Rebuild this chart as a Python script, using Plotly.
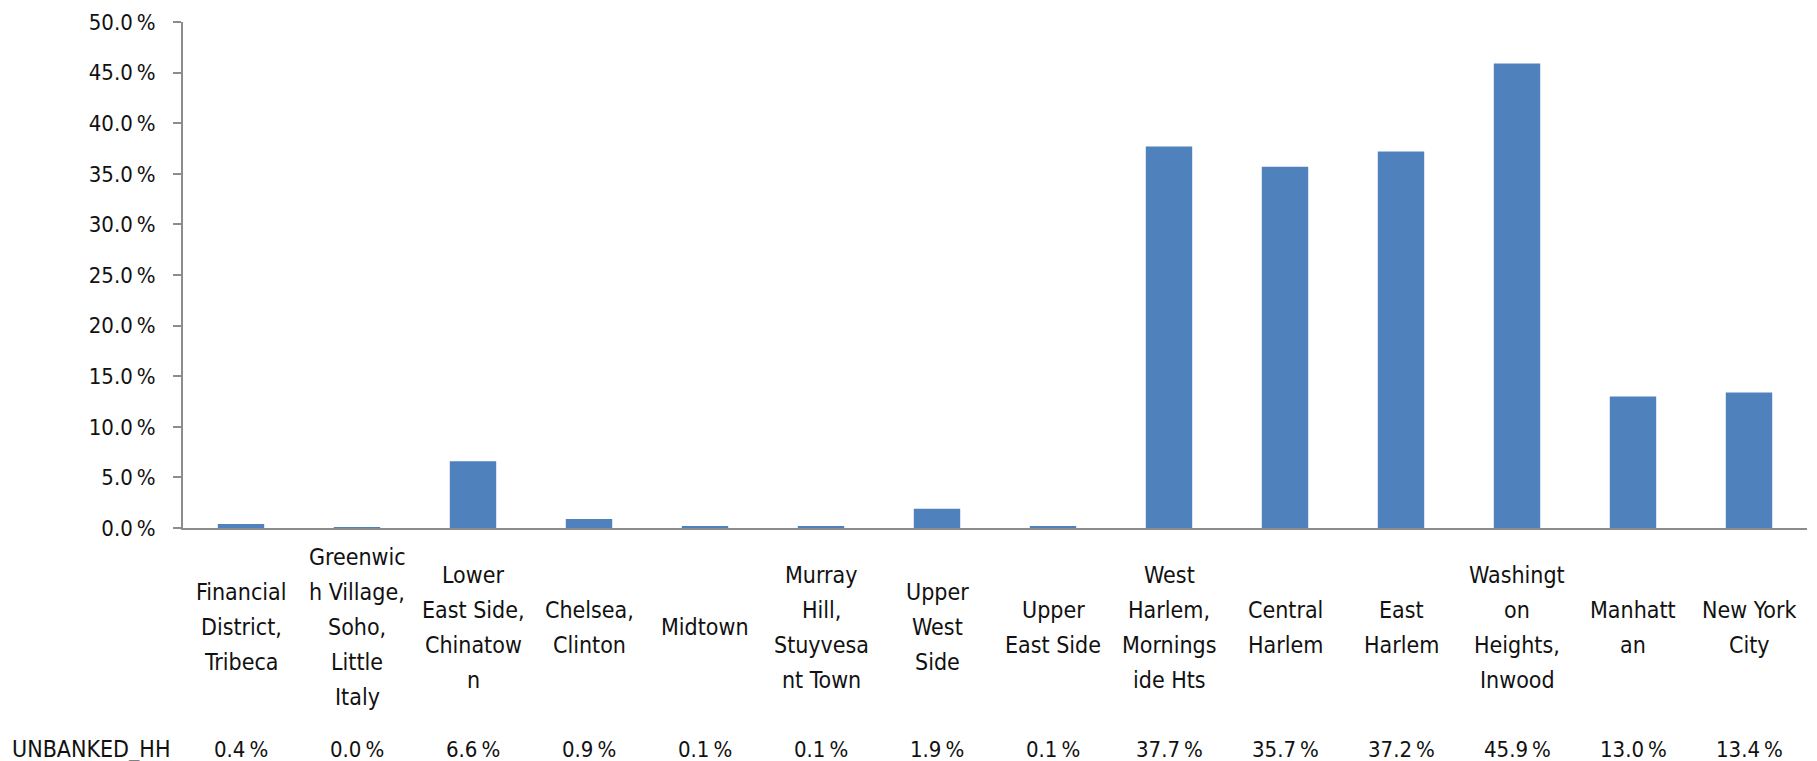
import plotly.graph_objects as go

# ---- data ----
categories = [
    "Financial\nDistrict,\nTribeca",
    "Greenwic\nh Village,\nSoho,\nLittle\nItaly",
    "Lower\nEast Side,\nChinatow\nn",
    "Chelsea,\nClinton",
    "Midtown",
    "Murray\nHill,\nStuyvesa\nnt Town",
    "Upper\nWest\nSide",
    "Upper\nEast Side",
    "West\nHarlem,\nMornings\nide Hts",
    "Central\nHarlem",
    "East\nHarlem",
    "Washingt\non\nHeights,\nInwood",
    "Manhatt\nan",
    "New York\nCity",
]
unbanked_hh = [0.4, 0.04, 6.6, 0.9, 0.1, 0.1, 1.9, 0.1, 37.7, 35.7, 37.2, 45.9, 13.0, 13.4]
series_name = "UNBANKED_HH"
y_ticks = [0, 5, 10, 15, 20, 25, 30, 35, 40, 45, 50]
y_tick_labels = [f"{v:.1f}\u2009%" for v in y_ticks]

# ---- style ----
FONT = "DejaVu Sans Condensed, Liberation Sans Narrow, sans-serif"
TXT = "#111111"
AXIS = "#8c8c8c"
BAR = "#4F81BD"

W, H = 1817, 761
L, R, T, B = 183, 10, 22, 233
plot_w = W - L - R
plot_h = H - T - B


def py_to_paper(py):
    return (H - B - py) / plot_h


def px_to_paper(px):
    return (px - L) / plot_w


x_idx = list(range(len(categories)))

fig = go.Figure()
fig.add_trace(go.Bar(
    x=x_idx,
    y=unbanked_hh,
    marker=dict(color=BAR, line=dict(width=0)),
    name=series_name,
    showlegend=False,
    hoverinfo="skip",
))

LABEL_CENTER_Y = 627
LINE_STEP = 35
VALUE_ROW_Y = 749

annotations = []
for i, (cat, val) in enumerate(zip(categories, unbanked_hh)):
    lines = cat.split("\n")
    n = len(lines)
    for k, line in enumerate(lines):
        yy = LABEL_CENTER_Y + (k - (n - 1) / 2) * LINE_STEP
        annotations.append(dict(
            x=i, xref="x", y=py_to_paper(yy), yref="paper",
            text=line,
            showarrow=False, xanchor="center", yanchor="middle", align="center",
            font=dict(family=FONT, size=23, color=TXT),
        ))
    annotations.append(dict(
        x=i, xref="x", y=py_to_paper(VALUE_ROW_Y), yref="paper",
        text=f"{val:.1f}\u2009%",
        showarrow=False, xanchor="center", yanchor="middle",
        font=dict(family=FONT, size=22, color=TXT),
    ))
annotations.append(dict(
    x=px_to_paper(10), xref="paper", y=py_to_paper(VALUE_ROW_Y), yref="paper",
    text=series_name,
    showarrow=False, xanchor="left", yanchor="middle",
    font=dict(family=FONT, size=23, color=TXT),
))

fig.update_layout(
    width=W, height=H, autosize=False,
    margin=dict(l=L, r=R, t=T, b=B, pad=0),
    paper_bgcolor="white", plot_bgcolor="white",
    bargap=0.6,
    font=dict(family=FONT, size=22, color=TXT),
    annotations=annotations,
    xaxis=dict(
        range=[-0.5, len(categories) - 0.5],
        showticklabels=False, ticks="",
        showline=True, linecolor=AXIS, linewidth=2,
        showgrid=False, zeroline=False, fixedrange=True,
    ),
    yaxis=dict(
        range=[0, 50],
        tickvals=y_ticks, ticktext=y_tick_labels,
        ticks="outside", ticklen=8, tickwidth=2, tickcolor=AXIS,
        showline=True, linecolor=AXIS, linewidth=2,
        showgrid=False, zeroline=False,
        tickfont=dict(family=FONT, size=22, color=TXT),
        ticklabelstandoff=13,
        fixedrange=True,
    ),
)

fig.write_html(
    "out.html",
    config={"displayModeBar": False},
    post_script="document.body.style.margin='0';document.body.style.overflow='hidden';",
)
